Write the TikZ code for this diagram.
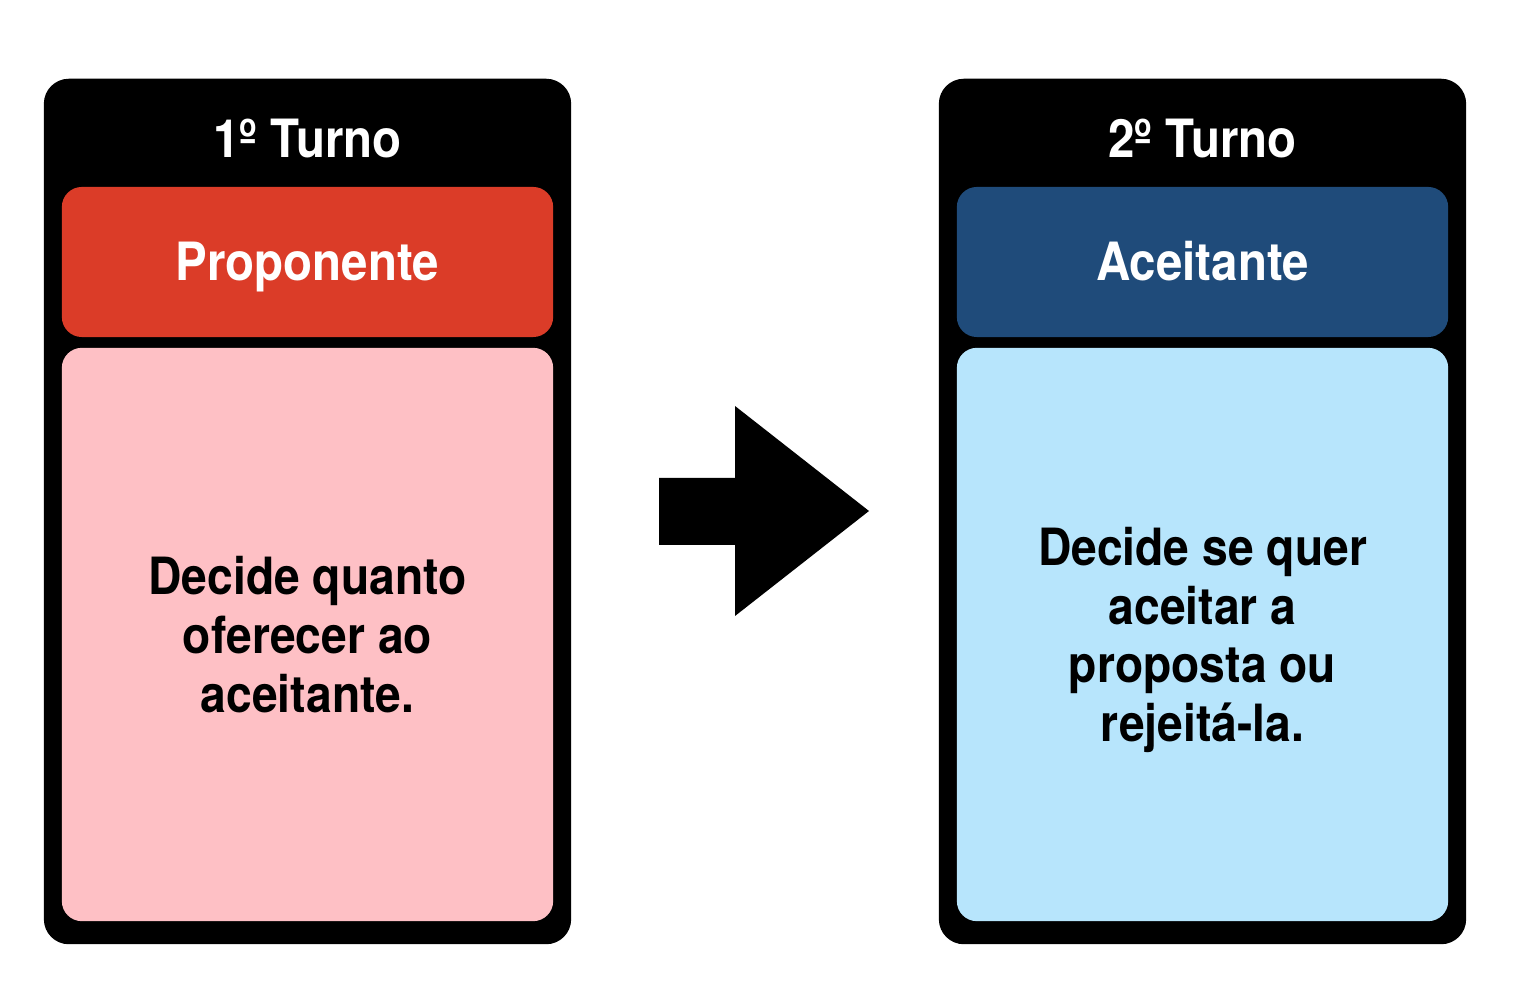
\documentclass[tikz,border=0pt]{standalone}
\usepackage{fontspec}
\setmainfont{TeX Gyre Heros}[FakeStretch=0.9]
\usepackage{xcolor}
\definecolor{propred}{HTML}{DB3C28}
\definecolor{proppink}{HTML}{FEC0C5}
\definecolor{acenavy}{HTML}{1F4B7A}
\definecolor{acesky}{HTML}{B7E5FC}
\usetikzlibrary{positioning}

\tikzset{
  panel/.style={fill=black, rounded corners=25pt*0.2845, minimum width=5.27cm, minimum height=8.65cm, inner sep=0pt},
  rolebox/.style={rounded corners=20pt*0.2845, minimum width=4.91cm, minimum height=1.50cm, inner sep=0pt, text=white, text height=10.8pt, text depth=0pt, font=\bfseries\fontsize{15}{18}\selectfont},
  taskbox/.style={rounded corners=20pt*0.2845, minimum width=4.91cm, minimum height=5.73cm, inner sep=0pt, align=center, text depth=0pt, font=\bfseries\fontsize{14.6}{16.7}\selectfont},
  turntitle/.style={text=white, text height=10.8pt, text depth=0pt, font=\bfseries\fontsize{15}{18}\selectfont}
}

\begin{document}
\begin{tikzpicture}[x=0.01cm, y=-0.01cm]
		\useasboundingbox (0,0) rectangle (1524,1004);
		
		% 1o turno
		\node[panel] (turno1) at (307.5,511.5) {};
		\node[turntitle] (titulo1) at (307.5,139) {1º Turno};
		\node[rolebox, fill=propred] (proponente) at (307.5,262) {Proponente};
		\node[taskbox, fill=proppink] (tarefa1) at (307.5,634.5) {Decide quanto\\oferecer ao\\aceitante.};
		
		% 2o turno
		\node[panel] (turno2) at (1202.5,511.5) {};
		\node[turntitle] (titulo2) at (1202.5,139) {2º Turno};
		\node[rolebox, fill=acenavy] (aceitante) at (1202.5,262) {Aceitante};
		\node[taskbox, fill=acesky] (tarefa2) at (1202.5,634.5) {Decide se quer\\aceitar a\\proposta ou\\rejeitá-la.};
		
		% seta
		\fill (659,478) -- (735,478) -- (735,406) -- (869,511) -- (735,616) -- (735,545) -- (659,545) -- cycle;
		
	\end{tikzpicture}
\end{document}
